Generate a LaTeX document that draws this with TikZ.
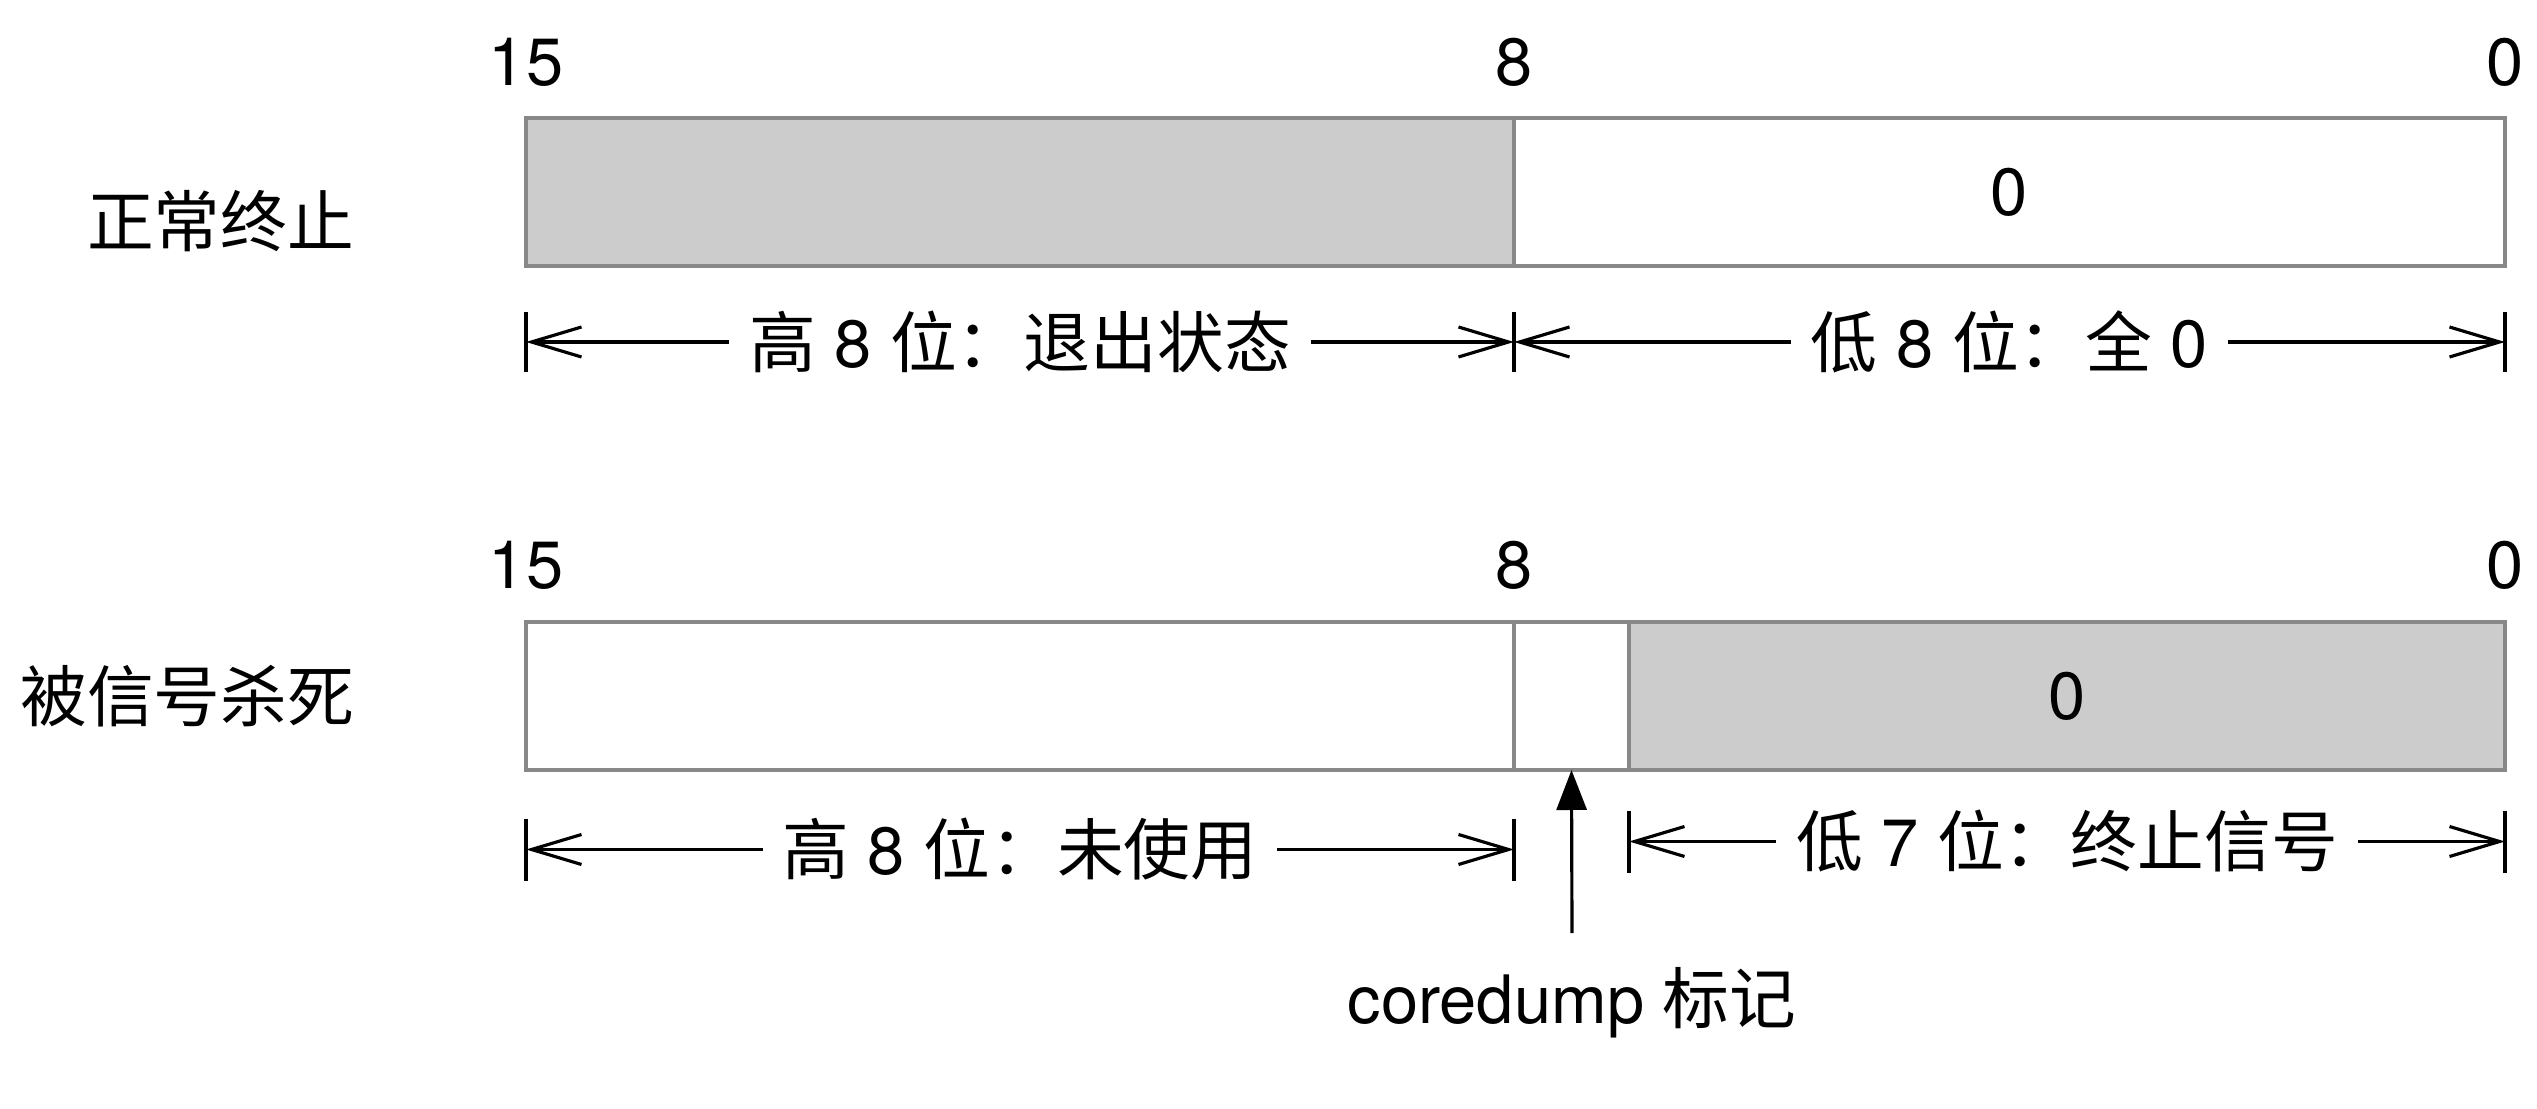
\documentclass[tikz,border=0pt]{standalone}
\usepackage{fontspec}
\setmainfont{TeX Gyre Heros}
\newfontfamily\zh{Noto Sans CJK SC}
\usetikzlibrary{arrows.meta}
\definecolor{cellgray}{HTML}{CCCCCC}
\definecolor{framegray}{HTML}{888888}
\begin{document}
\begin{tikzpicture}
        [font=\fontsize{19}{23}\selectfont,
        cell/.style={draw=framegray, line width=1.1pt, minimum height=1.48cm, inner sep=0pt, outer sep=0pt},
        bitno/.style={inner sep=0pt},
        rowlabel/.style={anchor=east, inner sep=0pt, font=\fontsize{19}{23}\selectfont\zh},
        dimline/.style={line width=0.9pt, {Straight Barb[length=0.5cm,width=0.3cm]}-{Straight Barb[length=0.5cm,width=0.3cm]}},
        dimtick/.style={line width=0.9pt},
        dimlabel/.style={midway, fill=white, inner xsep=0.2cm, inner ysep=0pt},
        flag/.style={line width=0.9pt, -{Triangle[length=0.4cm,width=0.3cm]}}]

        \useasboundingbox (0,0) rectangle (25.37,11.08);

        % normal exit: status word
        \node[cell, fill=cellgray, minimum width=9.88cm] (status) at (10.20,9.16) {};
        \node[cell, minimum width=9.91cm] (lowzero) at (20.095,9.16) {0};

        % killed by signal: status word
        \node[cell, minimum width=9.88cm] (unused) at (10.20,4.12) {};
        \node[cell, minimum width=1.15cm] (core) at (15.715,4.12) {};
        \node[cell, fill=cellgray, minimum width=8.76cm] (signo) at (20.67,4.12) {0};

        % bit numbers
        \node[bitno] (n15a) at (5.26,10.46) {15};
        \node[bitno] (n8a) at (15.14,10.46) {8};
        \node[bitno] (n0a) at (25.05,10.46) {0};
        \node[bitno] (n15b) at (5.26,5.43) {15};
        \node[bitno] (n8b) at (15.14,5.43) {8};
        \node[bitno] (n0b) at (25.05,5.43) {0};

        % row labels
        \node[rowlabel] (normal) at (3.55,8.87) {正常终止};
        \node[rowlabel] (killed) at (3.55,4.12) {被信号杀死};

        % dimension lines, first row
        \coordinate (d1) at (5.26,7.66);
        \coordinate (d2) at (15.14,7.66);
        \coordinate (d3) at (25.05,7.66);
        \foreach \c in {d1,d2,d3}
            \draw[dimtick] (\c) ++(0,0.3) -- ++(0,-0.6);
        \draw[dimline] (d1) -- (d2) node[dimlabel] {{\zh 高} 8 {\zh 位：退出状态}};
        \draw[dimline] (d2) -- (d3) node[dimlabel] {{\zh 低} 8 {\zh 位：全} 0};

        % dimension lines, second row
        \coordinate (e1) at (5.26,2.585);
        \coordinate (e2) at (15.14,2.585);
        \coordinate (f1) at (16.29,2.665);
        \coordinate (f2) at (25.05,2.665);
        \foreach \c in {e1,e2,f1,f2}
            \draw[dimtick] (\c) ++(0,0.31) -- ++(0,-0.62);
        \draw[dimline] (e1) -- (e2) node[dimlabel] {{\zh 高} 8 {\zh 位：未使用}};
        \draw[dimline] (f1) -- (f2) node[dimlabel] {{\zh 低} 7 {\zh 位：终止信号}};

        % coredump flag
        \coordinate (cdtail) at (15.72,1.75);
        \node (cdlabel) at (15.72,1.05) {coredump {\zh 标记}};
        \draw[flag] (cdtail) -- (core.south);

\end{tikzpicture}
\end{document}
